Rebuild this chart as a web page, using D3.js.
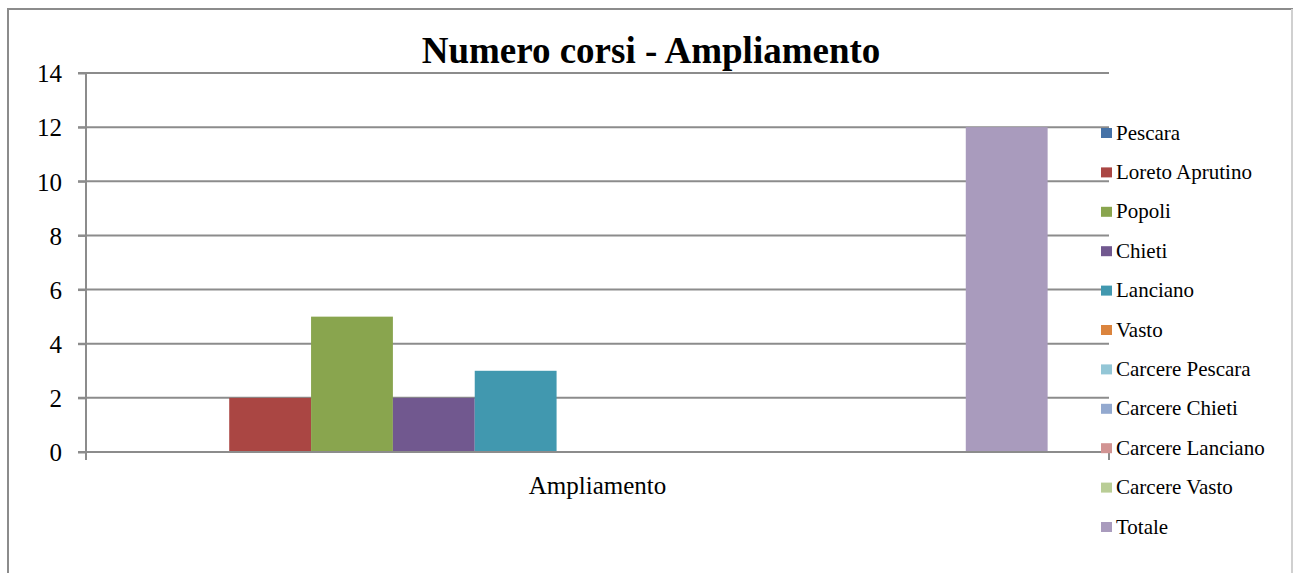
<!DOCTYPE html>
<html>
<head>
<meta charset="utf-8">
<title>Numero corsi - Ampliamento</title>
<style>
body { margin: 0; background: #fff; }
svg text { font-family: "Liberation Serif", "Times New Roman", serif !important; fill: #000; }
.grid line { stroke: #8c8c8c; stroke-width: 2px; }
.axis path, .axis line { stroke: #8c8c8c; stroke-width: 2px; }
</style>
</head>
<body>
<script src="https://cdn.jsdelivr.net/npm/d3@7/dist/d3.min.js"></script>
<script>

var categories = ["Ampliamento"];

var seriesNames = ["Pescara", "Loreto Aprutino", "Popoli", "Chieti", "Lanciano", "Vasto",
  "Carcere Pescara", "Carcere Chieti", "Carcere Lanciano", "Carcere Vasto", "Totale"];

var seriesValues = [0, 2, 5, 2, 3, 0, 0, 0, 0, 0, 12];

var seriesColors = ["#4572A7", "#AA4643", "#89A54E", "#71588F", "#4198AF", "#DB843D",
  "#93C6D6", "#93A9CF", "#D19392", "#B9CD96", "#A99BBD"];

var yTicks = [0, 2, 4, 6, 8, 10, 12, 14];

var width = 1293,
    height = 573;

var plot = { left: 86, right: 1109, top: 73, bottom: 452 };

var svg = d3.select("body").append("svg")
    .attr("width", width)
    .attr("height", height);

// outer chart border
svg.append("rect")
    .attr("x", 8).attr("y", 9)
    .attr("width", 1284).attr("height", 600)
    .attr("fill", "none")
    .attr("stroke", "#8c8c8c")
    .attr("stroke-width", 2);
svg.append("line")
    .attr("x1", 1292).attr("x2", 1292).attr("y1", 9).attr("y2", 573)
    .attr("stroke", "#d0d0d0").attr("stroke-width", 2);

var y = d3.scaleLinear()
    .domain([0, 14])
    .range([plot.bottom, plot.top]);

var x0 = d3.scaleBand()
    .domain(categories)
    .range([plot.left, plot.right]);

// gap width 150%: half a gap (0.75 bar) on each side of the group
var x1 = d3.scaleBand()
    .domain(seriesNames)
    .range([0, x0.bandwidth()])
    .paddingOuter(0.75)
    .paddingInner(0);

// gridlines
svg.append("g")
    .attr("class", "grid")
    .selectAll("line")
    .data(yTicks)
    .enter().append("line")
    .attr("x1", plot.left - 8)
    .attr("x2", plot.right)
    .attr("y1", function(d) { return y(d); })
    .attr("y2", function(d) { return y(d); });

// bars
svg.append("g")
    .selectAll("rect")
    .data(seriesNames.map(function(n, i) { return { name: n, value: seriesValues[i], color: seriesColors[i] }; }))
    .enter().append("rect")
    .attr("x", function(d) { return x0(categories[0]) + x1(d.name); })
    .attr("width", x1.bandwidth())
    .attr("y", function(d) { return y(d.value); })
    .attr("height", function(d) { return y(0) - y(d.value); })
    .attr("fill", function(d) { return d.color; });

// y axis
var yAxis = svg.append("g")
    .attr("class", "axis")
    .attr("transform", "translate(" + plot.left + ",0)")
    .call(d3.axisLeft(y).tickValues(yTicks).tickSize(8).tickSizeOuter(0).tickPadding(16));
yAxis.attr("font-family", null);
yAxis.select(".domain").remove();
yAxis.append("line")
    .attr("x1", 0).attr("x2", 0)
    .attr("y1", plot.top).attr("y2", plot.bottom + 8);
yAxis.selectAll("text")
    .style("font-size", "25px")
    .attr("fill", "#000")
    .attr("dy", "0.35em");

// x axis
var xAxis = svg.append("g")
    .attr("class", "axis")
    .attr("transform", "translate(0," + plot.bottom + ")");
xAxis.append("line")
    .attr("x1", plot.left).attr("x2", plot.right);
xAxis.selectAll(".tk")
    .data([plot.left, plot.right])
    .enter().append("line")
    .attr("class", "tk")
    .attr("x1", function(d) { return d; }).attr("x2", function(d) { return d; })
    .attr("y1", 0).attr("y2", 8);
xAxis.selectAll(".cat")
    .data(categories)
    .enter().append("text")
    .attr("class", "cat")
    .attr("x", function(d) { return x0(d) + x0.bandwidth() / 2; })
    .attr("y", 42)
    .attr("text-anchor", "middle")
    .style("font-size", "25px")
    .text(function(d) { return d; });

// title
svg.append("text")
    .attr("x", 651)
    .attr("y", 63)
    .attr("text-anchor", "middle")
    .style("font-size", "37px")
    .style("font-weight", "bold")
    .text("Numero corsi - Ampliamento");

// legend
var legend = svg.append("g")
    .attr("transform", "translate(1101,133)");

var item = legend.selectAll("g")
    .data(seriesNames)
    .enter().append("g")
    .attr("transform", function(d, i) { return "translate(0," + (i * 39.4) + ")"; });

item.append("rect")
    .attr("x", 0).attr("y", -5)
    .attr("width", 11).attr("height", 10)
    .attr("fill", function(d, i) { return seriesColors[i]; });

item.append("text")
    .attr("x", 15)
    .attr("y", 6.5)
    .style("font-size", "21px")
    .text(function(d) { return d; });

</script>
</body>
</html>
